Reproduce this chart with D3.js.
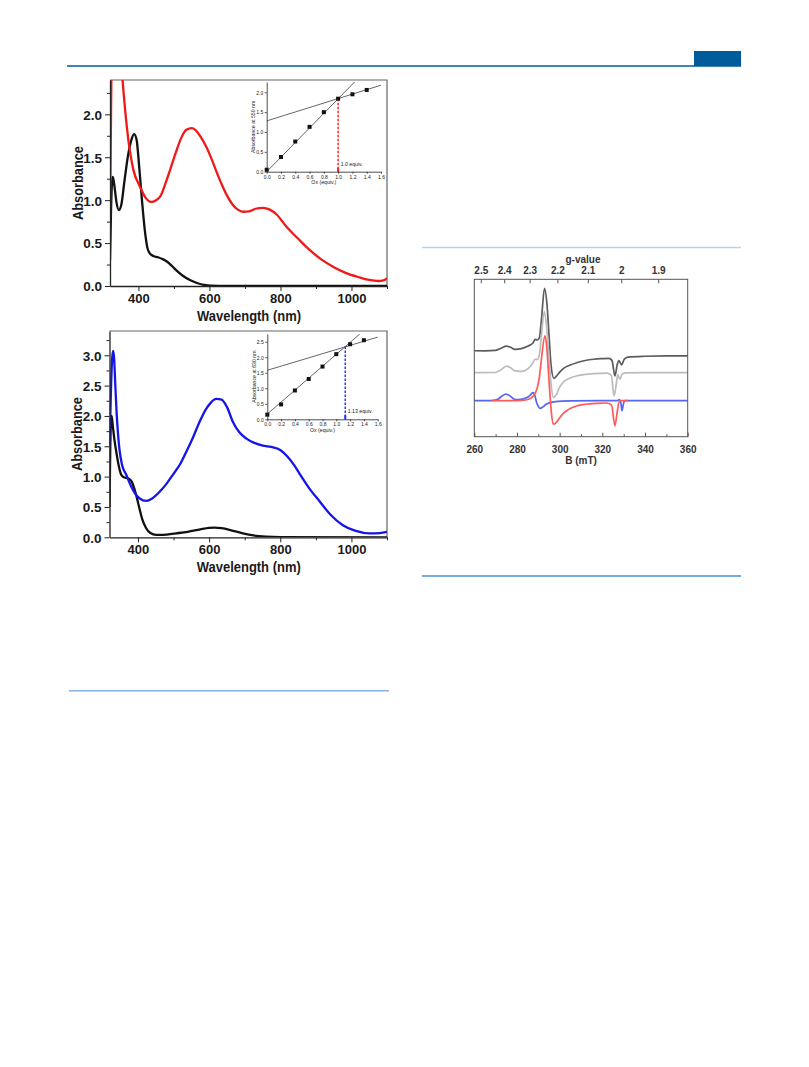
<!DOCTYPE html>
<html><head><meta charset="utf-8">
<script src="https://cdn.jsdelivr.net/npm/d3@7"></script>
<style>
body{margin:0;background:#fff}
svg{display:block}
text{font-family:"Liberation Sans",Arial,sans-serif}
</style>
</head><body>
<svg id="c" width="809" height="1067"></svg>
<script>
// ---------------- DATA ----------------
// UV-vis panel (a): wavelength (nm), absorbance
const uv1Black = [[320,0.30],[323,0.90],[326,1.22],[328,1.27],[332,1.18],[338,0.98],[345,0.885],[352,0.95],[360,1.20],[370,1.50],[380,1.70],[388,1.77],[395,1.70],[402,1.40],[410,1.00],[418,0.65],[425,0.45],[432,0.38],[442,0.35],[455,0.335],[470,0.31],[482,0.28],[495,0.23],[510,0.17],[525,0.12],[545,0.07],[565,0.035],[585,0.012],[605,0.003],[650,0],[800,0],[1100,0]];
const uv1Red = [[320,0.80],[322,1.60],[324,2.50],[327,3.00],[340,3.20],[350,2.70],[355,2.42],[365,1.95],[375,1.60],[386,1.35],[404,1.16],[420,1.03],[435,0.98],[450,1.00],[461,1.04],[475,1.18],[489,1.35],[505,1.55],[520,1.72],[535,1.82],[550,1.84],[560,1.82],[575,1.74],[590,1.63],[605,1.49],[620,1.33],[635,1.18],[650,1.05],[665,0.95],[680,0.89],[695,0.865],[712,0.87],[730,0.90],[750,0.91],[770,0.89],[790,0.83],[817,0.69],[850,0.55],[882,0.42],[915,0.31],[948,0.225],[985,0.15],[1023,0.10],[1050,0.07],[1075,0.058],[1090,0.065],[1100,0.09]];
// UV-vis panel (b)
const uv2Black = [[320,0.50],[322,1.40],[324,1.90],[326,2.00],[329,1.85],[334,1.60],[339,1.41],[346,1.18],[353,1.03],[360,0.99],[367,0.98],[375,0.96],[381,0.93],[390,0.80],[397,0.65],[404,0.48],[412,0.30],[423,0.15],[435,0.07],[451,0.04],[470,0.04],[507,0.065],[540,0.09],[575,0.13],[600,0.155],[615,0.16],[635,0.15],[660,0.12],[695,0.065],[725,0.03],[760,0.01],[800,0.002],[1100,0]];
const uv2Blue = [[320,1.50],[324,2.40],[327,2.90],[330,3.07],[333,2.95],[336,2.55],[340,2.05],[344,1.70],[348,1.45],[355,1.20],[367,1.03],[380,0.85],[392,0.72],[405,0.64],[423,0.60],[440,0.64],[461,0.75],[480,0.88],[498,1.03],[520,1.22],[536,1.41],[555,1.65],[573,1.90],[590,2.10],[605,2.22],[620,2.28],[635,2.27],[650,2.15],[667,1.90],[685,1.73],[704,1.63],[725,1.56],[751,1.51],[775,1.49],[800,1.44],[820,1.33],[840,1.18],[854,1.05],[880,0.82],[911,0.59],[940,0.38],[976,0.20],[1010,0.11],[1051,0.065],[1080,0.07],[1100,0.09]];
const uvXTicks = [400,600,800,1000];
const uvXMinor = [500,700,900,1100];
const uv1YTicks = [0,0.5,1.0,1.5,2.0];
const uv1YMinor = [0.25,0.75,1.25,1.75,2.25];
const uv2YTicks = [0,0.5,1.0,1.5,2.0,2.5,3.0];
const uv2YMinor = [0.25,0.75,1.25,1.75,2.25,2.75,3.25];

// Titration insets: Ox (equiv.) vs absorbance
const insetOx = [0,0.2,0.4,0.6,0.8,1.0,1.2,1.4];
const inset1Abs = [0.05,0.37,0.76,1.13,1.50,1.84,1.95,2.06];
const inset1FitSteep = [[0,0],[1.23,2.26]];
const inset1FitFlat = [[0,1.28],[1.6,2.18]];
const inset2Abs = [0.15,0.48,0.93,1.30,1.70,2.10,2.42,2.55];
const inset2FitSteep = [[0,0.17],[1.34,2.75]];
const inset2FitFlat = [[0,1.58],[1.6,2.65]];
const insetXTicks = [0,0.2,0.4,0.6,0.8,1.0,1.2,1.4,1.6];
const inset1YTicks = [0,0.5,1.0,1.5,2.0];
const inset2YTicks = [0,0.5,1.0,1.5,2.0,2.5];

// EPR: field B (mT) vs intensity (arb. units, stacked)
const eprDark = [[260,54.6],[265,54.5],[270,54.8],[273,56.5],[275,57.6],[277,56.8],[279,55.5],[282,56],[285,57.5],[287.5,59.5],[288.5,61.8],[289.5,61.5],[290.5,63],[291.5,75],[292.9,94.3],[294,85],[295,65],[296,45],[297.3,37.1],[298.5,38.5],[300,41],[302,43.6],[305,45.5],[308,47],[312,48.4],[316,49.2],[320,49.6],[323,49.8],[324.5,48.5],[325.9,38.6],[327,46],[327.8,48.3],[329,45.6],[330.2,49],[332,50.6],[340,51.1],[350,51.3],[360,51.3]];
const eprLight = [[260,40.7],[270,40.8],[273,43],[275,44.9],[277,43.8],[279,41.8],[282,41.5],[285,43],[287.5,47],[288.5,49.2],[289.5,49],[290.5,52],[291.5,65],[292.8,79.4],[294,68],[295,50],[296,33],[297,25],[298.5,27],[300,31.5],[302,35],[305,37.3],[308,38.6],[312,39.6],[316,40.1],[322,40.4],[324.2,39],[325.5,25.9],[326.5,33],[327.2,39.5],[328.2,36.5],[329.4,40],[331,40.6],[340,40.7],[360,40.7]];
const eprRed = [[268,22.9],[280,22.9],[284,23.3],[286.5,24.5],[288,26.5],[289.5,31],[290.5,38],[291.5,50],[293.1,64],[294,56],[294.8,40],[295.6,24],[296.3,13],[297,7.9],[298,8.5],[299.5,11],[301.7,14.8],[304,17.2],[307.9,19.5],[312,20.6],[317,21.2],[322,21.4],[324.3,20],[325.9,7],[327,16],[327.8,22],[329,22.9],[332,22.9]];
const eprBlue = [[260,22.9],[268,22.9],[271,23.8],[273,25.8],[274.8,27.1],[276.5,26.2],[278.5,24],[280.5,23.5],[283,24],[285.5,25.5],[287.6,28],[288.4,26],[289.2,21.7],[290.1,19],[290.8,18],[292,18.8],[293.5,20.5],[295.4,21.6],[298,22.3],[305,22.7],[320,22.9],[327,22.9],[328,23.6],[328.6,22],[329.2,16.5],[329.9,21],[330.5,22.9],[340,22.9],[360,22.9]];
const eprBTicks = [260,280,300,320,340,360];
const eprBMinor = [270,290,310,330,350];
const gTicks = [2.5,2.4,2.3,2.2,2.1,2.0,1.9];
const gTickLabels = ["2.5","2.4","2.3","2.2","2.1","2","1.9"];
const gFieldProduct = 658.2; // g * B (mT) at the spectrometer frequency

// ---------------- DRAW ----------------
const svg = d3.select('#c');
svg.append('rect').attr('width',809).attr('height',1067).attr('fill','#fff');

// page decorations
svg.append('line').attr('x1',67).attr('x2',741).attr('y1',66).attr('y2',66).attr('stroke','#005b9c').attr('stroke-width',1.6);
svg.append('rect').attr('x',694).attr('y',51).attr('width',47).attr('height',15).attr('fill','#005b9a');
svg.append('line').attr('x1',422).attr('x2',741).attr('y1',247.5).attr('y2',247.5).attr('stroke','#b7d3ea').attr('stroke-width',1.5);
svg.append('line').attr('x1',422).attr('x2',741).attr('y1',576).attr('y2',576).attr('stroke','#4a8fcb').attr('stroke-width',1.3);
svg.append('line').attr('x1',69).attr('x2',389).attr('y1',690.7).attr('y2',690.7).attr('stroke','#86b4dc').attr('stroke-width',1.5);

function styleAxis(sel, size, weight, color){
  sel.selectAll('text').attr('font-size',size).attr('font-weight',weight).attr('fill',color).attr('font-family','"Liberation Sans",Arial,sans-serif');
  sel.selectAll('line').attr('stroke','#222');
  sel.select('.domain').attr('stroke','#222');
}

function drawUV(cfg){
  const x = d3.scaleLinear().domain([320,1100]).range([cfg.left,cfg.right]);
  const y = d3.scaleLinear().domain([0,cfg.yMax]).range([cfg.bottom,cfg.top]);
  const g = svg.append('g');
  const clipId = 'clip'+cfg.id;
  svg.append('clipPath').attr('id',clipId).append('rect')
    .attr('x',cfg.left).attr('y',cfg.top).attr('width',cfg.right-cfg.left).attr('height',cfg.bottom-cfg.top);
  g.append('path').attr('d',`M${cfg.left},${cfg.top}H${cfg.right}V${cfg.bottom}`)
    .attr('fill','none').attr('stroke','#666').attr('stroke-width',1.2);
  const line = d3.line().x(d=>x(d[0])).y(d=>y(d[1])).curve(d3.curveMonotoneX);
  cfg.series.forEach(s=>{
    g.append('path').datum(s.data).attr('d',line).attr('fill','none')
      .attr('stroke',s.color).attr('stroke-width',2.3).attr('clip-path',`url(#${clipId})`);
  });
  // minor ticks
  const xm = g.append('g').attr('transform',`translate(0,${cfg.bottom})`)
    .call(d3.axisBottom(x).tickValues(uvXMinor).tickSize(3).tickFormat(''));
  xm.select('.domain').remove(); xm.selectAll('line').attr('stroke','#222');
  const ym = g.append('g').attr('transform',`translate(${cfg.left},0)`)
    .call(d3.axisLeft(y).tickValues(cfg.yMinor.filter(v=>v<cfg.yMax)).tickSize(3).tickFormat(''));
  ym.select('.domain').remove(); ym.selectAll('line').attr('stroke','#222');
  // major axes
  const xa = g.append('g').attr('transform',`translate(0,${cfg.bottom})`)
    .call(d3.axisBottom(x).tickValues(uvXTicks).tickSize(5).tickPadding(2.5).tickSizeOuter(0).tickFormat(d3.format('d')));
  styleAxis(xa,13,'bold','#1a1a1a'); xa.select('.domain').attr('stroke-width',1.3);
  const ya = g.append('g').attr('transform',`translate(${cfg.left},0)`)
    .call(d3.axisLeft(y).tickValues(cfg.yTicks).tickSize(5).tickPadding(3).tickSizeOuter(0).tickFormat(d3.format('.1f')));
  styleAxis(ya,13.5,'bold','#1a1a1a'); ya.select('.domain').attr('stroke-width',1.3);
  ya.selectAll('text').attr('dy','0.36em');
  // titles
  g.append('text').attr('x',(cfg.left+cfg.right)/2 + 0.5).attr('y',cfg.bottom+34.5)
    .attr('text-anchor','middle').attr('font-size',14.5).attr('font-weight','bold').attr('fill','#1a1a1a')
    .attr('textLength',104).attr('lengthAdjust','spacingAndGlyphs').text('Wavelength (nm)');
  g.append('text').attr('transform',`translate(${cfg.titleX},${cfg.titleY}) rotate(-90)`)
    .attr('text-anchor','middle').attr('dominant-baseline','central').attr('font-size',15).attr('font-weight','bold').attr('fill','#1a1a1a')
    .attr('textLength',74).attr('lengthAdjust','spacingAndGlyphs').text('Absorbance');
}

function drawInset(cfg){
  const x = d3.scaleLinear().domain([0,1.6]).range([cfg.left,cfg.right]);
  const y = d3.scaleLinear().domain([0,cfg.yMax]).range([cfg.bottom,cfg.top]);
  const g = svg.append('g');
  const clipId = 'iclip'+cfg.id;
  svg.append('clipPath').attr('id',clipId).append('rect')
    .attr('x',cfg.left).attr('y',cfg.top).attr('width',cfg.right-cfg.left+6).attr('height',cfg.bottom-cfg.top);
  const line = d3.line().x(d=>x(d[0])).y(d=>y(d[1]));
  [cfg.steep,cfg.flat].forEach(f=>{
    g.append('path').datum(f).attr('d',line).attr('fill','none').attr('stroke','#555').attr('stroke-width',0.9).attr('clip-path',`url(#${clipId})`);
  });
  // dashed equivalence line
  const s = (cfg.steep[1][1]-cfg.steep[0][1])/(cfg.steep[1][0]-cfg.steep[0][0]);
  const yAt = cfg.steep[0][1] + s*cfg.equiv;
  g.append('line').attr('x1',x(cfg.equiv)).attr('x2',x(cfg.equiv)).attr('y1',y(yAt)).attr('y2',y(0))
    .attr('stroke',cfg.color).attr('stroke-width',1.4).attr('stroke-dasharray','2.5,1.5');
  g.append('line').attr('x1',x(cfg.equiv)).attr('x2',x(cfg.equiv)).attr('y1',y(0)-4).attr('y2',y(0))
    .attr('stroke',cfg.color).attr('stroke-width',2);
  // points
  g.selectAll('rect.pt').data(insetOx.map((o,i)=>[o,cfg.abs[i]])).enter().append('rect')
    .attr('x',d=>x(d[0])-2).attr('y',d=>y(d[1])-2).attr('width',4).attr('height',4).attr('fill','#111');
  const xa = g.append('g').attr('transform',`translate(0,${cfg.bottom})`)
    .call(d3.axisBottom(x).tickValues(insetXTicks).tickSize(2).tickPadding(1.5).tickSizeOuter(0).tickFormat(d3.format('.1f')));
  styleAxis(xa,5,'normal','#222'); xa.selectAll('line,.domain').attr('stroke-width',0.8);
  const ya = g.append('g').attr('transform',`translate(${cfg.left},0)`)
    .call(d3.axisLeft(y).tickValues(cfg.yTicks).tickSize(2).tickPadding(1.5).tickSizeOuter(0).tickFormat(d3.format('.1f')));
  styleAxis(ya,5,'normal','#222'); ya.selectAll('line,.domain').attr('stroke-width',0.8);
  ya.selectAll('text').attr('dy','0.36em');
  g.append('text').attr('x',(cfg.left+cfg.right)/2).attr('y',cfg.bottom+12.5).attr('text-anchor','middle')
    .attr('font-size',5.2).attr('fill','#222').text('Ox (equiv.)');
  g.append('text').attr('transform',`translate(${cfg.left-13.5},${(cfg.top+cfg.bottom)/2}) rotate(-90)`)
    .attr('text-anchor','middle').attr('dominant-baseline','central').attr('font-size',5.2).attr('fill','#222')
    .text(cfg.ylabel);
  g.append('text').attr('x',x(cfg.equiv)+2.5).attr('y',y(0)-6).attr('font-size',5.2).attr('fill','#222').text(cfg.label);
}

drawUV({id:1,left:110,right:387,top:80,bottom:286,yMax:2.40,yTicks:uv1YTicks,yMinor:uv1YMinor,titleX:77,titleY:183,
  series:[{data:uv1Black,color:'#111'},{data:uv1Red,color:'#f01818'}]});
drawUV({id:2,left:109.5,right:387,top:331,bottom:537.3,yMax:3.40,yTicks:uv2YTicks,yMinor:uv2YMinor,titleX:76,titleY:434,
  series:[{data:uv2Black,color:'#111'},{data:uv2Blue,color:'#1515e8'}]});

drawInset({id:1,left:266.7,right:381,top:82,bottom:171.7,yMax:2.26,yTicks:inset1YTicks,abs:inset1Abs,
  steep:inset1FitSteep,flat:inset1FitFlat,equiv:1.0,color:'#f02020',label:'1.0 equiv.',ylabel:'Absorbance at 550 nm'});
drawInset({id:2,left:267.3,right:377.7,top:334,bottom:419.3,yMax:2.75,yTicks:inset2YTicks,abs:inset2Abs,
  steep:inset2FitSteep,flat:inset2FitFlat,equiv:1.13,color:'#2030f0',label:'1.13 equiv.',ylabel:'Absorbance at 630 nm'});

// EPR
(function(){
  const L=474.3,R=687.7,T=279.3,B=436.7;
  const x = d3.scaleLinear().domain([260,360]).range([L,R]);
  const y = d3.scaleLinear().domain([0,100]).range([B,T]);
  const g = svg.append('g');
  const line = d3.line().x(d=>x(d[0])).y(d=>y(d[1])).curve(d3.curveMonotoneX);
  [[eprDark,'#5c5c5c'],[eprLight,'#bcbcbc'],[eprBlue,'#5466f2'],[eprRed,'#ff5a5a']].forEach(([d,c])=>{
    g.append('path').datum(d).attr('d',line).attr('fill','none').attr('stroke',c).attr('stroke-width',1.7);
  });
  g.append('rect').attr('x',L).attr('y',T).attr('width',R-L).attr('height',B-T).attr('fill','none').attr('stroke','#555').attr('stroke-width',1);
  const xm = g.append('g').attr('transform',`translate(0,${B})`).call(d3.axisBottom(x).tickValues(eprBMinor).tickSize(-2.5).tickFormat(''));
  xm.select('.domain').remove(); xm.selectAll('line').attr('stroke','#555');
  const xa = g.append('g').attr('transform',`translate(0,${B})`)
    .call(d3.axisBottom(x).tickValues(eprBTicks).tickSize(-4).tickPadding(9).tickSizeOuter(0).tickFormat(d3.format('d')));
  styleAxis(xa,10,'bold','#333'); xa.select('.domain').remove(); xa.selectAll('line').attr('stroke','#555');
  // top g-value axis
  const gt = g.append('g');
  gt.selectAll('line').data(gTicks).enter().append('line')
    .attr('x1',d=>x(gFieldProduct/d)).attr('x2',d=>x(gFieldProduct/d)).attr('y1',T).attr('y2',T+4).attr('stroke','#555');
  gt.selectAll('text').data(gTicks).enter().append('text')
    .attr('x',d=>x(gFieldProduct/d)).attr('y',T-5.5).attr('text-anchor','middle')
    .attr('font-size',10).attr('font-weight','bold').attr('fill','#333').text((d,i)=>gTickLabels[i]);
  g.append('text').attr('x',(L+R)/2+2).attr('y',T-16).attr('text-anchor','middle').attr('font-size',10).attr('font-weight','bold').attr('fill','#333').text('g-value');
  g.append('text').attr('x',(L+R)/2).attr('y',B+27.5).attr('text-anchor','middle').attr('font-size',10).attr('font-weight','bold').attr('fill','#333').text('B (mT)');
})();
</script>
</body></html>
